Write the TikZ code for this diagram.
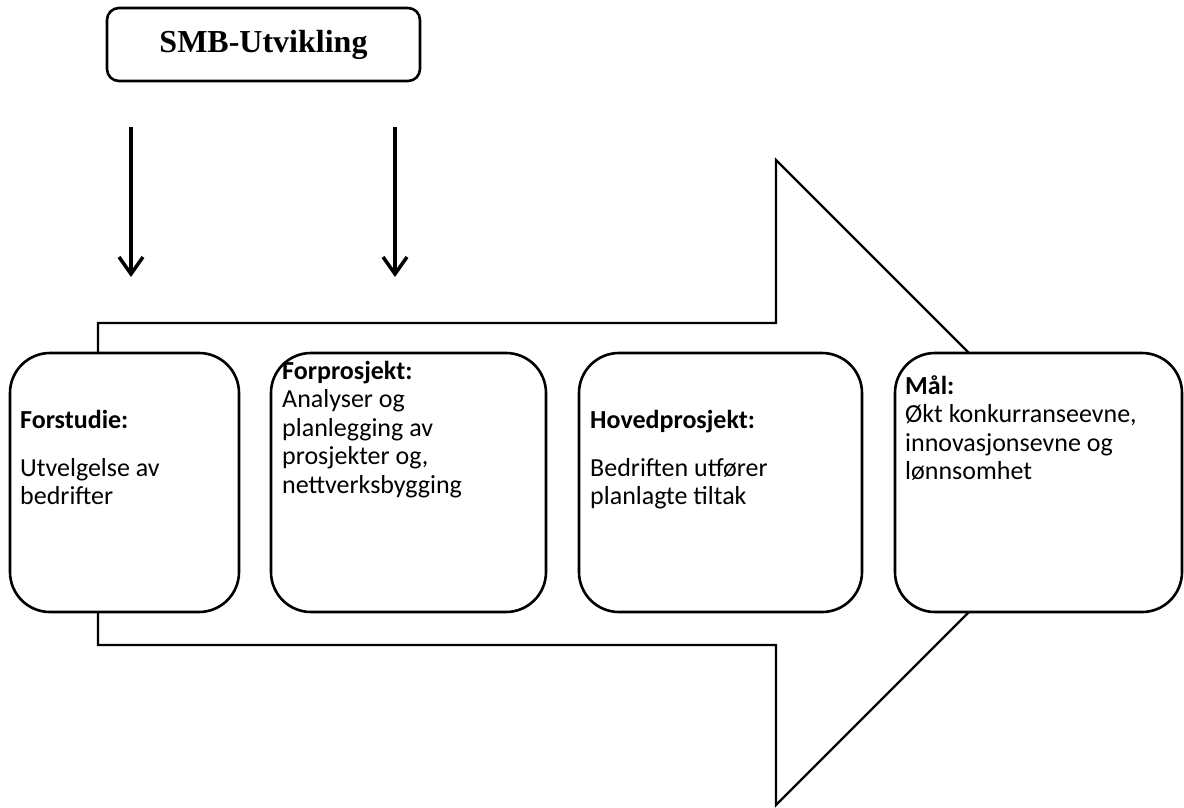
\documentclass[tikz,border=0pt]{standalone}
\usepackage{fontspec}
\setmainfont{Carlito}
\newfontfamily\smbfont{Liberation Serif}
\usetikzlibrary{arrows.meta}
\tikzset{
  x=1pt, y=-1pt,
  bigarrow/.style={draw=black, line width=2.2pt, line join=miter},
  phase/.style={draw=black, line width=2.6pt, fill=white, rounded corners=40pt},
  topbox/.style={draw=black, line width=2.6pt, fill=white, rounded corners=12pt,
    minimum width=313pt, minimum height=73pt, inner sep=0pt,
    font=\smbfont\bfseries\fontsize{32}{36}\selectfont},
  txt/.style={anchor=north west, align=left, inner sep=0pt,
    font=\fontsize{26}{28.5}\selectfont},
  downarrow/.style={line width=3.5pt, -{Straight Barb[length=17pt,width=24pt,line width=3.5pt]}}
}
\begin{document}
\begin{tikzpicture}
\useasboundingbox (0,0) rectangle (1184,807);
% big arrow
\draw[bigarrow] (98,323) -- (776,323) -- (776,160) -- (1098.5,482.5) -- (776,805) -- (776,645) -- (98,645) -- cycle;
% top box
\node[topbox] (smb) at (263.5,44.5) {SMB-Utvikling};
% free arrows
\coordinate (a1s) at (131,127);
\coordinate (a1e) at (131,277);
\coordinate (a2s) at (395,127);
\coordinate (a2e) at (395,277);
\draw[downarrow] (a1s) -- (a1e);
\draw[downarrow] (a2s) -- (a2e);
% phase boxes
\draw[phase] (10,353) rectangle (239,612);
\draw[phase] (271,353) rectangle (546,612);
\draw[phase] (579,353) rectangle (862,612);
\draw[phase] (895,353) rectangle (1182,612);
% texts
\node[txt] (t1) at (20,408) {\strut\textbf{Forstudie:}\\[19.5pt]Utvelgelse av\\bedrifter};
\node[txt] (t2) at (282,359) {\strut\textbf{Forprosjekt:}\\Analyser og\\planlegging av\\prosjekter og,\\nettverksbygging};
\node[txt] (t3) at (590,408) {\strut\textbf{Hovedprosjekt:}\\[19.5pt]Bedriften utfører\\planlagte tiltak};
\node[txt] (t4) at (905,374) {\strut\textbf{Mål:}\\Økt konkurranseevne,\\innovasjonsevne og\\lønnsomhet};
\end{tikzpicture}
\end{document}
